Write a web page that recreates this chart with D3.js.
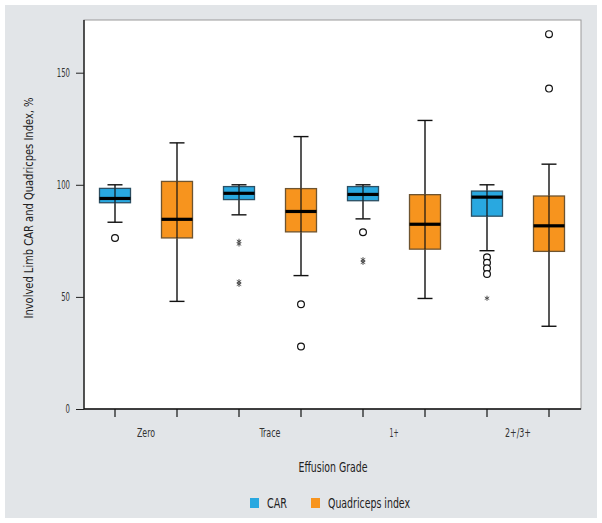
<!DOCTYPE html>
<html><head><meta charset="utf-8">
<script src="https://cdn.jsdelivr.net/npm/d3@7"></script>
<style>
html,body{margin:0;padding:0;background:#fff;}
text{font-family:"DejaVu Sans Condensed","DejaVu Sans",sans-serif;font-stretch:condensed;}
</style></head>
<body>
<svg id="c" width="602" height="523"></svg>
<script>
const grades = ["Zero", "Trace", "1+", "2+/3+"];
const series = ["CAR", "Quadriceps index"];
const colors = ["#29a8e0", "#f7941e"];
const strokes = ["#2c4f63", "#6e5430"];
const yTicks = [0, 50, 100, 150];

// CAR
const carMin = [83.3, 86.6, 84.8, 70.6];
const carQ1 = [92.0, 93.4, 92.9, 86.0];
const carMed = [93.9, 96.2, 95.7, 94.5];
const carQ3 = [98.4, 99.2, 99.2, 97.2];
const carMax = [100, 100, 100, 100];
const carOutliers = [[76.3], [], [78.8], [67.7, 65.2, 62.8, 60.2]];
const carExtremes = [[], [74.8, 73.6, 56.8, 55.6], [66.6, 65.4], [49.4]];

// Quadriceps index
const quadMin = [48.0, 59.5, 49.3, 36.9];
const quadQ1 = [76.3, 79.0, 71.3, 70.3];
const quadMed = [84.6, 88.1, 82.4, 81.7];
const quadQ3 = [101.5, 98.3, 95.6, 95.0];
const quadMax = [118.7, 121.5, 128.7, 109.2];
const quadOutliers = [[], [46.7, 27.9], [], [167.2, 142.9]];
const quadExtremes = [[], [], [], []];

const svg = d3.select("#c");
svg.append("rect").attr("x", 5).attr("y", 5).attr("width", 592).attr("height", 513).attr("fill", "#e2e5e8");

const L = 84, R = 581, T = 20, B = 409;
svg.append("rect").attr("x", L).attr("y", T).attr("width", R - L).attr("height", B - T)
  .attr("fill", "#fff").attr("stroke", "#9a9a9a").attr("stroke-width", 1);

const y = d3.scaleLinear().domain([0, 173.5]).range([B, T]);
const x0 = d3.scaleBand().domain(grades).range([L, R - 1]).padding(0);
const x1 = d3.scaleBand().domain(series).range([0, x0.bandwidth()]).padding(0);

const data = [];
grades.forEach((g, i) => {
  data.push({g, s: series[0], k: 0, min: carMin[i], q1: carQ1[i], med: carMed[i], q3: carQ3[i], max: carMax[i], out: carOutliers[i], ext: carExtremes[i]});
  data.push({g, s: series[1], k: 1, min: quadMin[i], q1: quadQ1[i], med: quadMed[i], q3: quadQ3[i], max: quadMax[i], out: quadOutliers[i], ext: quadExtremes[i]});
});
const cx = d => x0(d.g) + x1(d.s) + x1.bandwidth() / 2;
const bw = x1.bandwidth() / 2;
const cap = 15;

const gBox = svg.append("g");
data.forEach(d => {
  const c = cx(d);
  const g = gBox.append("g");
  g.append("line").attr("x1", c).attr("x2", c).attr("y1", y(d.max)).attr("y2", y(d.min))
    .attr("stroke", "#111").attr("stroke-width", 1.4);
  [d.max, d.min].forEach(v => g.append("line").attr("x1", c - cap / 2).attr("x2", c + cap / 2)
    .attr("y1", y(v)).attr("y2", y(v)).attr("stroke", "#111").attr("stroke-width", 1.4));
  g.append("rect").attr("x", c - bw / 2).attr("width", bw).attr("y", y(d.q3)).attr("height", y(d.q1) - y(d.q3))
    .attr("fill", colors[d.k]).attr("stroke", strokes[d.k]).attr("stroke-width", 1.3);
  g.append("line").attr("x1", c).attr("x2", c).attr("y1", y(d.q3)).attr("y2", y(d.q1))
    .attr("stroke", "#111").attr("stroke-width", 1.2);
  g.append("line").attr("x1", c - bw / 2).attr("x2", c + bw / 2).attr("y1", y(d.med)).attr("y2", y(d.med))
    .attr("stroke", "#000").attr("stroke-width", 3.2);
  d.out.forEach(v => g.append("circle").attr("cx", c).attr("cy", y(v)).attr("r", 3.4)
    .attr("fill", "#fff").attr("stroke", "#111").attr("stroke-width", 1.2));
  d.ext.forEach(v => g.append("path").attr("transform", `translate(${c},${y(v)})`)
    .attr("d", d3.symbol(d3.symbolAsterisk, 18)()).attr("fill", "none").attr("stroke", "#444").attr("stroke-width", 0.9));
});

const fit = (sel, w) => sel.attr("textLength", w).attr("lengthAdjust", "spacingAndGlyphs");

// y axis
const ya = svg.append("g").attr("transform", `translate(${L},0)`)
  .call(d3.axisLeft(y).tickValues(yTicks).tickSize(8).tickPadding(6));
ya.attr("font-family", null);
ya.select(".domain").attr("stroke", "#111").attr("stroke-width", 1.3).attr("d", `M0,${T}V${B}`);
ya.selectAll(".tick line").attr("stroke", "#222");
ya.selectAll(".tick text").attr("fill", "#333").style("font-size", "12px")
  .attr("textLength", d => String(d).length * 4.4).attr("lengthAdjust", "spacingAndGlyphs");

// x axis
svg.append("line").attr("x1", L).attr("x2", R).attr("y1", B).attr("y2", B).attr("stroke", "#111").attr("stroke-width", 1.3);
svg.append("g").selectAll("line").data(data).join("line")
  .attr("x1", cx).attr("x2", cx).attr("y1", B).attr("y2", B + 8).attr("stroke", "#111").attr("stroke-width", 1.2);
const xLabelW = [18, 21, 9, 26];
const xa = svg.append("g").attr("transform", `translate(0,${B})`)
  .call(d3.axisBottom(x0).tickSize(0).tickPadding(19));
xa.attr("font-family", null);
xa.select(".domain").remove();
xa.selectAll(".tick text").attr("fill", "#333").style("font-size", "12px")
  .attr("textLength", (d, i) => xLabelW[i]).attr("lengthAdjust", "spacingAndGlyphs");

// axis titles
fit(svg.append("text").attr("x", 333).attr("y", 472).attr("text-anchor", "middle")
  .attr("fill", "#222").style("font-size", "14px").text("Effusion Grade"), 69);
fit(svg.append("text").attr("transform", "translate(33,208) rotate(-90)").attr("text-anchor", "middle")
  .attr("fill", "#222").style("font-size", "13px").text("Involved Limb CAR and Quadricpes Index, %"), 221);

// legend
const lg = svg.append("g");
const lx = [250, 311];
const lw = [20, 82];
series.forEach((s, i) => {
  lg.append("rect").attr("x", lx[i]).attr("y", 498).attr("width", 9).attr("height", 10).attr("fill", colors[i]);
  fit(lg.append("text").attr("x", lx[i] + 17).attr("y", 508).attr("fill", "#222").style("font-size", "14px").text(s), lw[i]);
});
</script>
</body></html>
